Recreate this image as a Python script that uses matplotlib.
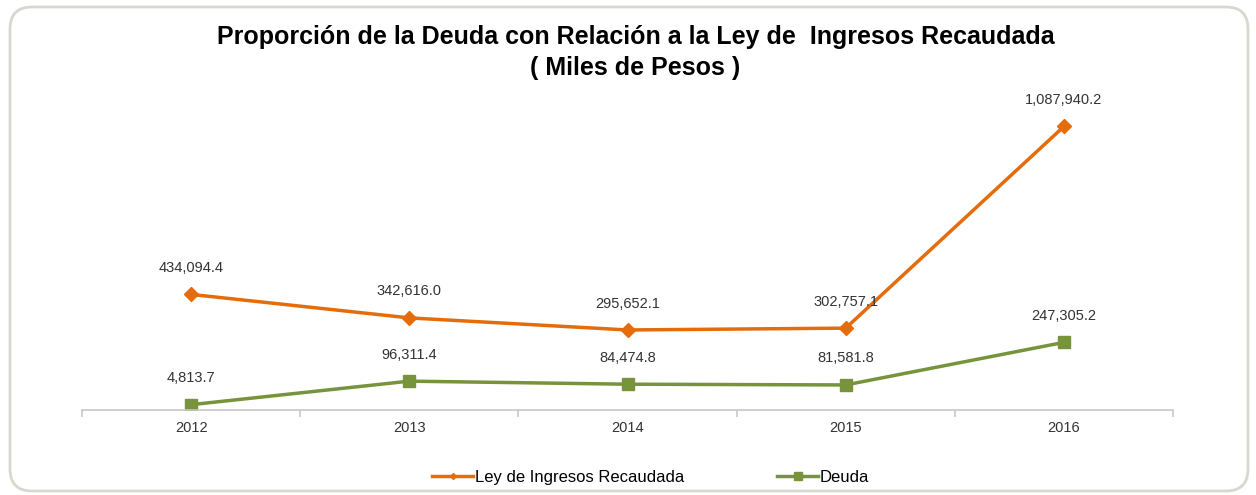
import matplotlib.pyplot as plt
from matplotlib.patches import FancyBboxPatch
from matplotlib.lines import Line2D
from matplotlib.transforms import IdentityTransform

# data
years = ['2012', '2013', '2014', '2015', '2016']
ley_ingresos = [434094.4, 342616.0, 295652.1, 302757.1, 1087940.2]
deuda = [4813.7, 96311.4, 84474.8, 81581.8, 247305.2]

orange = '#E46C0A'
green = '#77933C'

plt.rcParams['font.family'] = ['Liberation Sans', 'DejaVu Sans']

fig = plt.figure(figsize=(12.56, 4.95), dpi=100)

# rounded frame around the whole chart (pixel coordinates)
frame = FancyBboxPatch((10, 4), 1238, 484,
                       boxstyle='round,pad=0,rounding_size=22',
                       transform=IdentityTransform(), facecolor='white',
                       edgecolor='#d8d8d0', linewidth=2, zorder=-1)
fig.patches.append(frame)

ax = fig.add_axes([82 / 1256, 85 / 495, 1091 / 1256, 320 / 495])
ax.set_facecolor('none')

x = list(range(len(years)))
ax.plot(x, ley_ingresos, color=orange, lw=2.5, marker='D', ms=7,
        label='Ley de Ingresos Recaudada')
ax.plot(x, deuda, color=green, lw=2.5, marker='s', ms=9, label='Deuda')

for xi, v in zip(x, ley_ingresos):
    ax.annotate(f'{v:,.1f}', (xi, v), xytext=(0, 14), textcoords='offset points',
                ha='center', va='bottom', fontsize=10.5, color='#333333')
for xi, v in zip(x, deuda):
    ax.annotate(f'{v:,.1f}', (xi, v), xytext=(0, 14), textcoords='offset points',
                ha='center', va='bottom', fontsize=10.5, color='#333333')

ax.set_xlim(-0.5, 4.5)
ax.set_ylim(-16000, 1230000)
ax.set_yticks([])
for s in ['top', 'right', 'left']:
    ax.spines[s].set_visible(False)
ax.spines['bottom'].set_color('#c8c8c8')
ax.spines['bottom'].set_linewidth(1.2)

ax.set_xticks(x)
ax.set_xticklabels(years, fontsize=10.5, color='#333333')
ax.tick_params(axis='x', which='major', length=0, pad=8)
ax.set_xticks([-0.5, 0.5, 1.5, 2.5, 3.5, 4.5], minor=True)
ax.tick_params(axis='x', which='minor', length=5, color='#c8c8c8', width=1.2)

fig.text(0.506, 0.925, 'Proporción de la Deuda con Relación a la Ley de  Ingresos Recaudada',
         ha='center', va='center', fontsize=18, fontweight='bold', color='black')
fig.text(0.506, 0.862, '( Miles de Pesos )', ha='center', va='center',
         fontsize=18, fontweight='bold', color='black')

handles = [Line2D([], [], color=orange, lw=2.5, marker='D', ms=3),
           Line2D([], [], color=green, lw=2.5, marker='s', ms=6)]
fig.legend(handles, ['Ley de Ingresos Recaudada', 'Deuda'], loc='center',
           bbox_to_anchor=(0.518, 0.035), ncol=2, frameon=False, fontsize=12,
           handlelength=2.45, handletextpad=0.1, columnspacing=5.6)

fig.savefig('out.png', dpi=100)
